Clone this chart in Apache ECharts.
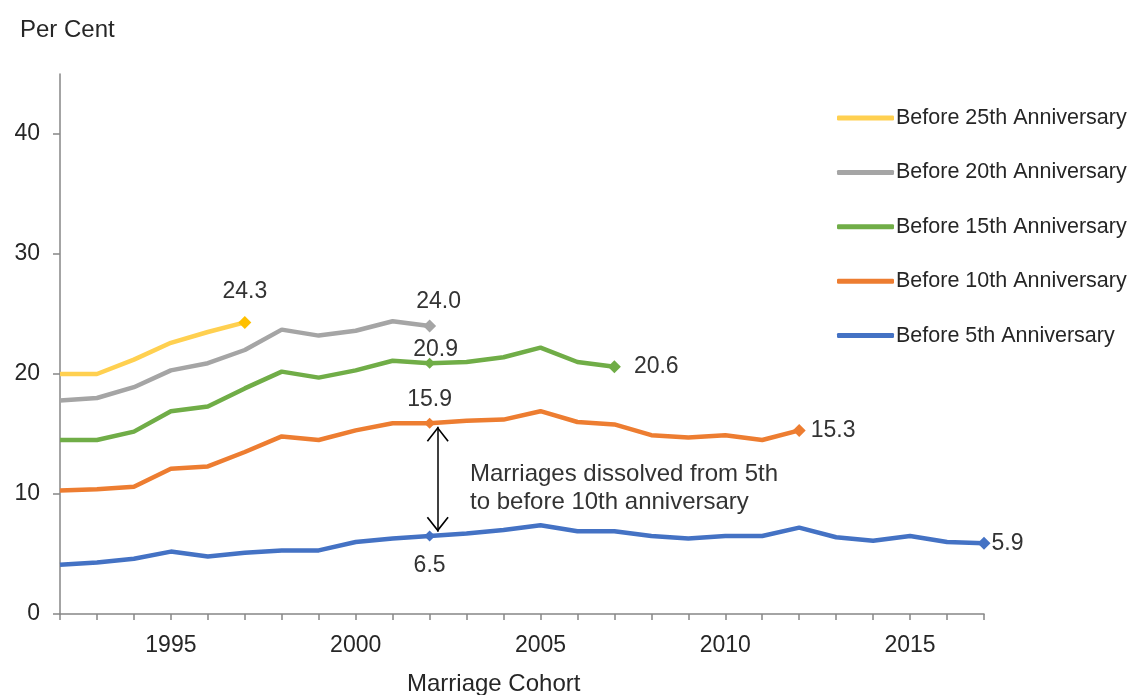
<!DOCTYPE html>
<html>
<head>
<meta charset="utf-8">
<script src="https://cdn.jsdelivr.net/npm/echarts@6/dist/echarts.min.js"></script>
<style>
html,body{margin:0;padding:0;background:#fff;}
#chart{width:1133px;height:695px;}
</style>
</head>
<body>
<div id="chart"></div>
<script>
// ---- data ----
const years = [1992,1993,1994,1995,1996,1997,1998,1999,2000,2001,2002,2003,2004,2005,2006,2007,2008,2009,2010,2011,2012,2013,2014,2015,2016,2017];
const before25 = [20.0,20.0,21.2,22.6,23.5,24.3];
const before20 = [17.8,18.0,18.9,20.3,20.9,22.0,23.7,23.2,23.6,24.4,24.0];
const before15 = [14.5,14.5,15.2,16.9,17.3,18.8,20.2,19.7,20.3,21.1,20.9,21.0,21.4,22.2,21.0,20.6];
const before10 = [10.3,10.4,10.6,12.1,12.3,13.5,14.8,14.5,15.3,15.9,15.9,16.1,16.2,16.9,16.0,15.8,14.9,14.7,14.9,14.5,15.3];
const before5  = [4.1,4.3,4.6,5.2,4.8,5.1,5.3,5.3,6.0,6.3,6.5,6.7,7.0,7.4,6.9,6.9,6.5,6.3,6.5,6.5,7.2,6.4,6.1,6.5,6.0,5.9];
const seriesNames = ['Before 25th Anniversary','Before 20th Anniversary','Before 15th Anniversary','Before 10th Anniversary','Before 5th Anniversary'];
const xTickLabels = [1995,2000,2005,2010,2015];
const yTickValues = [0,10,20,30,40];
const arrowSpan = {year: 2002.22, from: 15.61, to: 6.86};
const annotationText = 'Marriages dissolved from 5th\nto before 10th anniversary';

// ---- styling ----
const FONT = '"Liberation Sans", Arial, sans-serif';
const TXT = '#262626';
const colors = ['#FFD050','#A5A5A5','#70AD47','#ED7D31','#4472C4'];
const markerColors = ['#FFC000','#A5A5A5','#70AD47','#ED7D31','#4472C4'];

const labelSpecs = [
  {5: {position:'top', distance:13}},
  {10: {position:'top', distance:6, offset:[9,0]}},
  {10: {position:'top', distance:0, offset:[6,3]}, 15: {position:'right', distance:13}},
  {10: {position:'top', distance:7}, 20: {position:'right', distance:5}},
  {10: {position:'bottom', distance:13}, 25: {position:'right', distance:1}}
];
const symbolSpecs = [
  {5: 13},
  {10: 13},
  {10: 11, 15: 13},
  {10: 11, 20: 13},
  {10: 11, 25: 13}
];

const allValues = [before25, before20, before15, before10, before5];

function buildData(vals, si) {
  return vals.map((v, i) => {
    const item = {value: [years[i], v]};
    if (symbolSpecs[si][i] !== undefined) {
      item.symbol = 'diamond';
      item.symbolSize = symbolSpecs[si][i];
      item.itemStyle = {color: markerColors[si]};
    }
    const ls = labelSpecs[si][i];
    if (ls) {
      item.label = Object.assign({
        show: true,
        formatter: p => p.value[1].toFixed(1),
        fontSize: 23,
        fontFamily: FONT,
        color: '#333'
      }, ls);
    }
    return item;
  });
}

const chevron = 'path://M11,0 L22,14 L20.7,15 L11,2.6 L1.3,15 L0,14 Z';

const series = allValues.map((vals, si) => {
  const s = {
    name: seriesNames[si],
    type: 'line',
    data: buildData(vals, si),
    symbol: 'none',
    showSymbol: true,
    color: colors[si],
    lineStyle: {width: 4.5, color: colors[si]},
    z: 10 - si,
    animation: false
  };
  if (si === 3) {
    s.markLine = {
      silent: true,
      animation: false,
      symbol: ['none', 'none'],
      label: {show: false},
      lineStyle: {color: '#000', width: 1.5, type: 'solid'},
      emphasis: {disabled: true},
      data: [[{coord: [arrowSpan.year, arrowSpan.from]}, {coord: [arrowSpan.year, arrowSpan.to]}]]
    };
    s.markPoint = {
      silent: true,
      animation: false,
      symbol: chevron,
      symbolSize: [22, 15],
      itemStyle: {color: '#000'},
      label: {show: false},
      emphasis: {disabled: true},
      data: [
        {coord: [arrowSpan.year, arrowSpan.from], symbolOffset: [0, 7.5], symbolRotate: 0},
        {coord: [arrowSpan.year, arrowSpan.to], symbolOffset: [0, -7.5], symbolRotate: 180}
      ]
    };
  }
  return s;
});

const chart = echarts.init(document.getElementById('chart'), null, {renderer: 'canvas'});
chart.setOption({
  animation: false,
  backgroundColor: '#fff',
  title: [
    {text: 'Per Cent', left: 20, top: 18, padding: 0, textStyle: {fontFamily: FONT, fontSize: 24, fontWeight: 'normal', color: TXT}},
    {text: 'Marriage Cohort', left: 407, top: 672, padding: 0, textStyle: {fontFamily: FONT, fontSize: 24, fontWeight: 'normal', color: TXT}}
  ],
  legend: {
    orient: 'vertical',
    left: 832,
    top: 102,
    itemWidth: 57,
    itemHeight: 5,
    itemGap: 32.4,
    icon: 'roundRect',
    data: seriesNames,
    textStyle: {fontFamily: FONT, fontSize: 21.5, color: TXT, padding: [0,0,0,-3]},
    selectedMode: false
  },
  grid: {left: 60, right: 149, top: 74, bottom: 81, containLabel: false},
  xAxis: {
    type: 'value',
    min: 1992,
    max: 2017,
    interval: 1,
    splitLine: {show: false},
    axisLine: {show: true, lineStyle: {color: '#868686', width: 1.5}},
    axisTick: {show: true, length: 6, inside: false, lineStyle: {color: '#868686', width: 1.5}},
    axisLabel: {
      customValues: xTickLabels,
      margin: 20,
      fontFamily: FONT, fontSize: 23, color: TXT,
      formatter: v => String(v)
    }
  },
  yAxis: {
    type: 'value',
    min: 0,
    max: 45,
    interval: 10,
    splitLine: {show: false},
    axisLine: {show: true, lineStyle: {color: '#868686', width: 1.5}},
    axisTick: {show: true, length: 7, customValues: yTickValues, lineStyle: {color: '#868686', width: 1.5}},
    axisLabel: {customValues: yTickValues, margin: 20, fontFamily: FONT, fontSize: 23, color: TXT}
  },
  graphic: [{
    type: 'text',
    left: 470,
    top: 460,
    silent: true,
    style: {text: annotationText, font: '24px ' + FONT, fill: '#333', lineHeight: 28}
  }],
  series: series
});
</script>
</body>
</html>
